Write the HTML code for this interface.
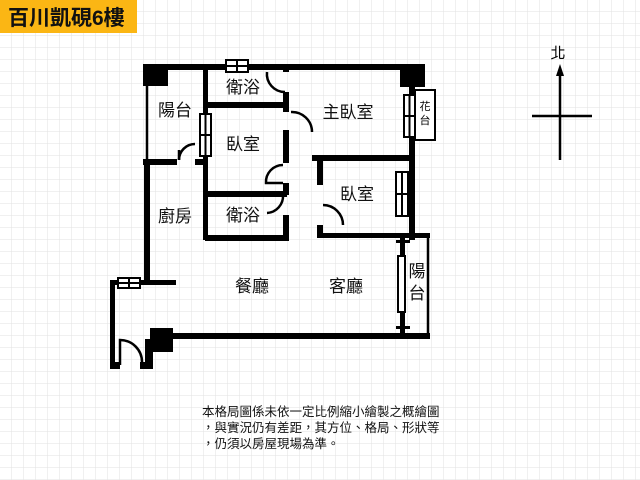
<!DOCTYPE html>
<html><head><meta charset="utf-8"><style>
body{margin:0;width:640px;height:480px;overflow:hidden;background:#fff;font-family:"Liberation Sans","Noto Sans CJK TC",sans-serif}
svg{position:absolute;left:0;top:0}
</style></head><body>
<svg width="640" height="480" viewBox="0 0 640 480" xmlns="http://www.w3.org/2000/svg" font-family="Liberation Sans, Noto Sans CJK TC, sans-serif">
<defs><pattern id="g" width="12" height="12" patternUnits="userSpaceOnUse"><path d="M12 0V12M0 12H12" stroke="#e2e2e2" stroke-width="1" fill="none"/></pattern></defs>
<rect width="640" height="480" fill="url(#g)"/>
<rect x="0" y="0" width="137" height="33" fill="#fbb614"/>
<text x="8" y="25" font-size="21" font-weight="bold" fill="#111">百川凱硯6樓</text>
<g fill="#000">
<!-- top wall -->
<rect x="168" y="64" width="257" height="6"/>
<rect x="143" y="64" width="25" height="22"/>
<rect x="400" y="64" width="25" height="23"/>
<!-- left column wall -->
<rect x="203" y="64" width="5" height="176"/>
<!-- balcony bottom -->
<rect x="143" y="159" width="34" height="6"/>
<rect x="195" y="159" width="13" height="6"/>
<!-- left outer wall -->
<rect x="144" y="159" width="6" height="124"/>
<!-- bath top -->
<rect x="205" y="102" width="82" height="6"/>
<!-- vertical x=285 -->
<rect x="283" y="64" width="6" height="8"/>
<rect x="283" y="92" width="6" height="20"/>
<rect x="283" y="130" width="6" height="33"/>
<rect x="283" y="183" width="6" height="12"/>
<rect x="283" y="215" width="6" height="25"/>
<!-- lower bath -->
<rect x="205" y="191" width="82" height="6"/>
<rect x="205" y="235" width="84" height="6"/>
<!-- master bottom -->
<rect x="312" y="155" width="103" height="6"/>
<rect x="409" y="64" width="6" height="176"/>
<!-- bedroom2 -->
<rect x="317" y="155" width="6" height="30"/>
<rect x="317" y="225" width="6" height="11"/>
<rect x="317" y="233" width="113" height="5"/>
<!-- living right -->
<rect x="400" y="236" width="5" height="100"/>
<rect x="396" y="240" width="14" height="3"/>
<rect x="396" y="326" width="14" height="3"/>
<!-- bottom wall -->
<rect x="150" y="333" width="280" height="6"/>
<rect x="150" y="328" width="23" height="24"/>
<!-- entry -->
<rect x="110" y="280" width="66" height="5"/>
<rect x="110" y="280" width="5" height="88"/>
<rect x="110" y="362" width="10" height="7"/>
<rect x="140" y="362" width="10" height="7"/>
<rect x="145" y="339" width="8" height="30"/>
</g>
<g fill="none" stroke="#000" stroke-width="2.5">
<path d="M179 160 A16 16 0 0 1 195 144"/><path d="M179 160 V150"/>
<path d="M267 72 A18 18 0 0 0 285 92"/>
<path d="M291 112 A20 20 0 0 1 312 132 H312"/>
<path d="M283 165 A17 17 0 0 0 266 183 H283"/>
<path d="M283 195 A17 17 0 0 1 267 213"/>
<path d="M323 205 A20 20 0 0 1 343 225"/>
<path d="M120 365 V340 A22 22 0 0 1 142 362"/>
<path d="M428 234 V338"/>
<path d="M147 86 V160"/>
</g>
<!-- windows -->
<g fill="#fff" stroke="#000" stroke-width="2">
<rect x="226" y="60" width="22" height="12"/><line x1="226" y1="66" x2="248" y2="66"/><line x1="237" y1="60" x2="237" y2="72"/>
<rect x="200" y="114" width="11" height="42"/><line x1="205.5" y1="114" x2="205.5" y2="156"/><line x1="200" y1="135" x2="211" y2="135"/>
<rect x="404" y="95" width="11" height="42"/><line x1="409.5" y1="95" x2="409.5" y2="137"/><line x1="404" y1="116" x2="415" y2="116"/>
<rect x="415" y="90" width="20" height="50"/>
<rect x="396" y="172" width="12" height="44"/><line x1="402" y1="172" x2="402" y2="216"/><line x1="396" y1="194" x2="408" y2="194"/>
<rect x="118" y="278" width="22" height="10"/><line x1="118" y1="283" x2="140" y2="283"/><line x1="129" y1="278" x2="129" y2="288"/>
<rect x="398" y="256" width="7" height="56"/>
</g>
<g font-size="17" fill="#111" text-anchor="middle">
<text x="175" y="116">陽台</text>
<text x="243" y="93">衛浴</text>
<text x="243" y="150">臥室</text>
<text x="348" y="118">主臥室</text>
<text x="175" y="222">廚房</text>
<text x="243" y="221">衛浴</text>
<text x="357" y="200">臥室</text>
<text x="252" y="292">餐廳</text>
<text x="346" y="292">客廳</text>
<text x="417" y="277">陽</text>
<text x="417" y="299">台</text>
</g>
<text x="425" y="110" font-size="11" text-anchor="middle">花</text>
<text x="425" y="124" font-size="11" text-anchor="middle">台</text>
<text x="558" y="58" font-size="15" text-anchor="middle">北</text>
<g stroke="#000" stroke-width="2.5"><line x1="560" y1="72" x2="560" y2="160"/><line x1="532" y1="116" x2="592" y2="116"/></g>
<path d="M560 64 L556 76 L564 76Z" fill="#000"/>
<g font-size="12.5" fill="#111">
<text x="202" y="416">本格局圖係未依一定比例縮小繪製之概繪圖</text>
<text x="202" y="432">，與實況仍有差距，其方位、格局、形狀等</text>
<text x="202" y="448">，仍須以房屋現場為準。</text>
</g>
</svg>
</body></html>
